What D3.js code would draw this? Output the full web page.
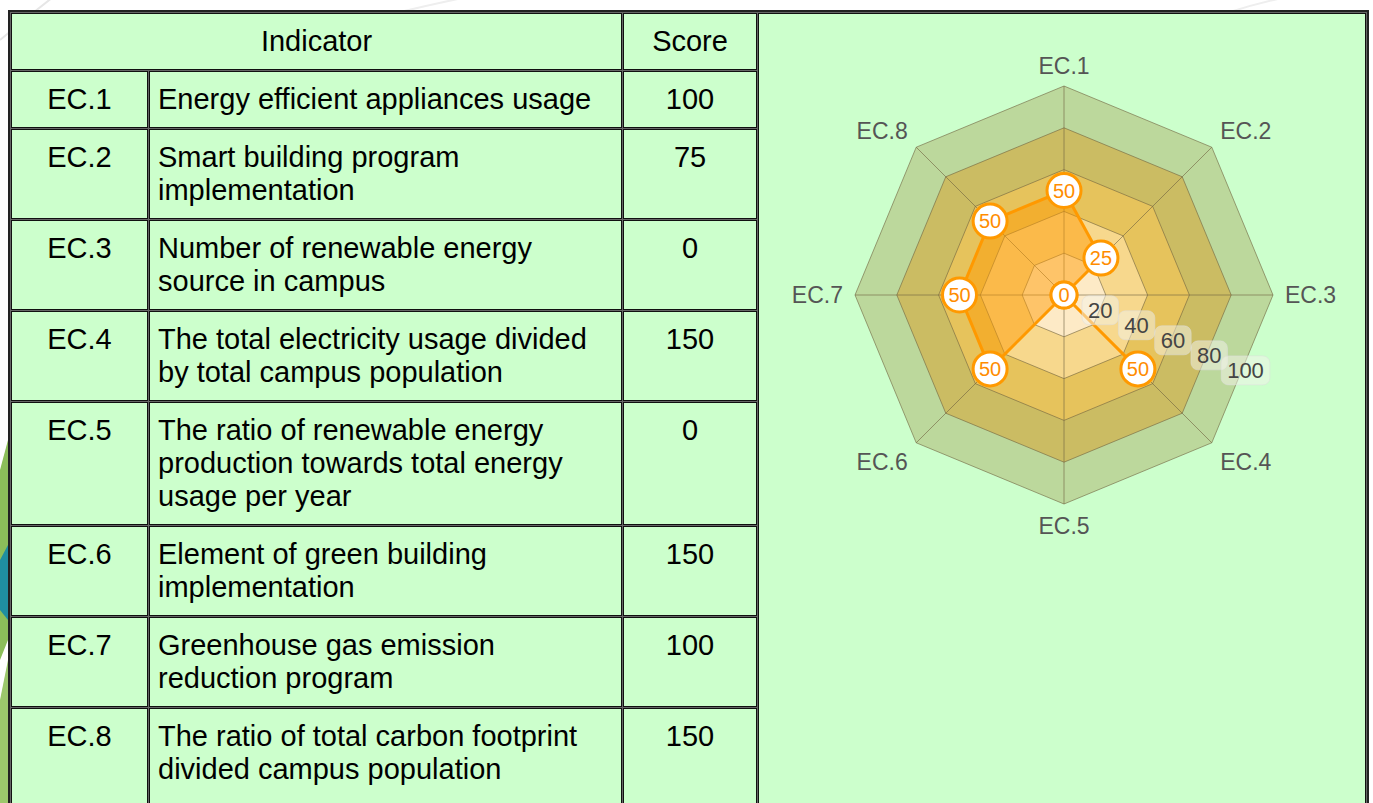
<!DOCTYPE html>
<html>
<head>
<meta charset="utf-8">
<script src="https://cdn.jsdelivr.net/npm/d3@7"></script>
<style>
  body { margin: 0; background: #fff; font-family: "Liberation Sans", Arial, sans-serif; overflow: hidden; }
  #bg, #radar { position: absolute; left: 0; top: 0; }
  #radar { pointer-events: none; }
  table {
    position: absolute; left: 8px; top: 10px;
    border: 2px solid #222; background: #666;
    border-spacing: 1px; table-layout: fixed; width: 1361px;
  }
  td {
    border: 1px solid #111; background: #ccffcc; color: #000;
    font-size: 29px; line-height: 33px; padding: 11px 8px 11px 8px;
    vertical-align: top; white-space: nowrap;
  }
  td.c { text-align: center; }
  tr.last td { padding-bottom: 30px; }
</style>
</head>
<body>
<svg id="bg" width="1373" height="803"></svg>
<table id="tbl"></table>
<svg id="radar" width="1373" height="803"></svg>
<script>
// table data
const codes = ["EC.1", "EC.2", "EC.3", "EC.4", "EC.5", "EC.6", "EC.7", "EC.8"];
const descriptions = [
    ["Energy efficient appliances usage"],
    ["Smart building program", "implementation"],
    ["Number of renewable energy", "source in campus"],
    ["The total electricity usage divided", "by total campus population"],
    ["The ratio of renewable energy", "production towards total energy", "usage per year"],
    ["Element of green building", "implementation"],
    ["Greenhouse gas emission", "reduction program"],
    ["The ratio of total carbon footprint", "divided campus population"]
];
const scores = [100, 75, 0, 150, 0, 150, 100, 150];

// radar data
const radarValues = [50, 25, 0, 50, 0, 50, 50, 50];
const ringTicks = [20, 40, 60, 80, 100];

// background decoration (only shows in the margins)
const bg = d3.select("#bg");
bg.append("path").attr("d", "M0,40 Q60,-10 90,-30").attr("fill", "none").attr("stroke", "#e6e6e6").attr("stroke-width", 2);
bg.append("path").attr("d", "M400,12 Q470,-5 560,-20").attr("fill", "none").attr("stroke", "#eee").attr("stroke-width", 2);
bg.append("path").attr("d", "M1230,12 Q1280,-4 1330,-10").attr("fill", "none").attr("stroke", "#eee").attr("stroke-width", 2);
bg.append("polygon").attr("points", "0,470 8,440 8,640 0,660").attr("fill", "#8cbf5a");
bg.append("polygon").attr("points", "0,560 8,545 8,620 0,610").attr("fill", "#1f8fa0");
bg.append("polygon").attr("points", "0,700 8,660 8,803 0,803").attr("fill", "#9cc86c");

// build the table
const tbl = d3.select("#tbl");
const cg = tbl.append("colgroup");
[137, 473, 134, 608].forEach(w => cg.append("col").style("width", w + "px"));

const head = tbl.append("tr");
head.append("td").attr("colspan", 2).attr("class", "c").text("Indicator");
head.append("td").attr("class", "c").text("Score");
head.append("td").attr("rowspan", codes.length + 1).style("padding", 0);

codes.forEach((c, i) => {
    const tr = tbl.append("tr").attr("class", i === codes.length - 1 ? "last" : null);
    tr.append("td").attr("class", "c").text(c);
    tr.append("td").html(descriptions[i].join("<br>"));
    tr.append("td").attr("class", "c").text(scores[i]);
});

// radar chart
const svg = d3.select("#radar");
const cx = 1064, cy = 295;
const n = codes.length;
const r = d3.scaleLinear().domain([0, 100]).range([0, 209]);
const ang = d3.scaleLinear().domain([0, n]).range([0, 2 * Math.PI]);
const bandColors = ["#fdeac6", "#f7d88d", "#e6c35c", "#cbbc63", "#bcd89c"];

const g = svg.append("g").attr("transform", `translate(${cx},${cy})`);

const ring = d3.lineRadial()
    .angle((d, i) => ang(i))
    .radius(d => r(d))
    .curve(d3.curveLinearClosed);

// bands, outermost first
ringTicks.slice().reverse().forEach((t, k) => {
    g.append("path")
        .attr("d", ring(codes.map(() => t)))
        .attr("fill", bandColors[ringTicks.length - 1 - k])
        .attr("stroke", "#6f6340")
        .attr("stroke-opacity", 0.6)
        .attr("stroke-width", 1);
});

// spokes
g.selectAll(".spoke")
    .data(codes)
    .enter()
    .append("line")
    .attr("x1", 0).attr("y1", 0)
    .attr("x2", (d, i) => r(100) * Math.sin(ang(i)))
    .attr("y2", (d, i) => -r(100) * Math.cos(ang(i)))
    .attr("stroke", "#6f6340")
    .attr("stroke-opacity", 0.6)
    .attr("stroke-width", 1);

// axis labels
const labelR = 221;
g.selectAll(".lbl")
    .data(codes)
    .enter()
    .append("text")
    .attr("x", (d, i) => labelR * Math.sin(ang(i)))
    .attr("y", (d, i) => -labelR * Math.cos(ang(i)))
    .attr("text-anchor", (d, i) => {
        const s = Math.sin(ang(i));
        return Math.abs(s) < 0.01 ? "middle" : (s > 0 ? "start" : "end");
    })
    .attr("dy", (d, i) => {
        const c = Math.cos(ang(i));
        return Math.abs(c) < 0.01 ? "0.35em" : (c > 0 ? "0" : "0.8em");
    })
    .attr("fill", "#555")
    .style("font-size", "23px")
    .text(d => d);

// data polygon
g.append("path")
    .attr("d", ring(radarValues))
    .attr("fill", "#ff9900")
    .attr("fill-opacity", 0.47)
    .attr("stroke", "#ff9900")
    .attr("stroke-width", 3)
    .attr("stroke-linejoin", "round");

// tick labels with soft boxes
const tickAng = ang(2.5);
const tk = g.selectAll(".tick")
    .data(ringTicks)
    .enter()
    .append("g")
    .attr("transform", d => `translate(${0.94 * r(d) * Math.sin(tickAng)},${-0.94 * r(d) * Math.cos(tickAng)})`);
tk.append("text")
    .attr("text-anchor", "middle")
    .attr("dy", "0.35em")
    .attr("fill", "#444")
    .style("font-size", "22px")
    .text(d => d);
tk.each(function() {
    const b = d3.select(this).select("text").node().getBBox();
    d3.select(this).insert("rect", "text")
        .attr("x", b.x - 6).attr("y", b.y - 2)
        .attr("width", b.width + 12).attr("height", b.height + 4)
        .attr("rx", 7)
        .attr("fill", "#f4f4ec")
        .attr("fill-opacity", 0.5)
        .attr("stroke", "#ddd")
        .attr("stroke-opacity", 0.5);
});

// markers
const mk = g.selectAll(".mk")
    .data(radarValues)
    .enter()
    .append("g")
    .attr("transform", (d, i) => `translate(${r(d) * Math.sin(ang(i))},${-r(d) * Math.cos(ang(i))})`);
mk.append("circle")
    .attr("r", d => String(d).length > 1 ? 17 : 13)
    .attr("fill", "#fff")
    .attr("stroke", "#ff9900")
    .attr("stroke-width", 3);
mk.append("text")
    .attr("text-anchor", "middle")
    .attr("dy", "0.36em")
    .attr("fill", "#ff8c00")
    .style("font-size", "20px")
    .text(d => d);
</script>
</body>
</html>
